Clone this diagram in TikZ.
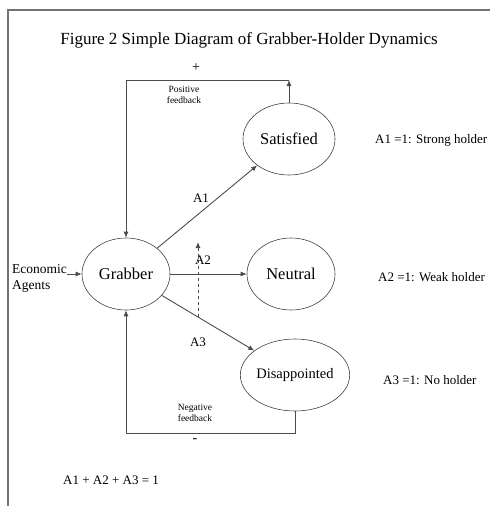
\documentclass[tikz,border=0pt]{standalone}
\usepackage{fontspec}
\setmainfont{Liberation Serif}
\usetikzlibrary{shapes.geometric,arrows.meta}

\tikzset{
  state/.style={ellipse, draw=black!75, line width=0.6pt, inner sep=0pt,
    minimum width=88pt, minimum height=72pt, font=\fontsize{16.5}{18}\selectfont},
  link/.style={draw=black!70, line width=0.9pt, -{Latex[length=6pt,width=5pt]}},
  plainlink/.style={draw=black!70, line width=0.9pt},
  note/.style={font=\fontsize{13}{15}\selectfont, inner sep=0pt},
  tiny/.style={font=\fontsize{9.5}{11}\selectfont, align=center, inner sep=0pt}
}

\begin{document}
\begin{tikzpicture}[x=1pt,y=-1pt]
  \useasboundingbox (0,0) rectangle (490,506);
  % page frame
  \draw[black!55, line width=1.6pt] (490,10) -- (8,10) -- (8,506);

  \node[font=\fontsize{17}{19}\selectfont] (title) at (249,40)
    {Figure 2 Simple Diagram of Grabber-Holder Dynamics};

  \node[state] (Grabber) at (126,274) {Grabber};
  \node[state, minimum width=92pt] (Satisfied) at (289,139) {Satisfied};
  \node[state] (Neutral) at (291,274) {Neutral};
  \node[state, minimum width=90pt, font=\fontsize{14.5}{16}\selectfont] (Disappointed) at (295,375) {Disappointed};

  \node[note, align=left, anchor=west, font=\fontsize{13.5}{16}\selectfont] (agents) at (12,278) {Economic\\Agents};

  \node[note, anchor=west] (strong) at (375,140) {A1 =1: Strong holder};
  \node[note, anchor=west] (weak) at (378,277) {A2 =1: Weak holder};
  \node[note, anchor=west] (none) at (383,380) {A3 =1: No holder};
  \node[note, anchor=west] (sum) at (63,480) {A1 + A2 + A3 = 1};

  \coordinate (posfb) at (289,80);
  \coordinate (negfb) at (126,433);
  \coordinate (dashlow) at (198,317);
  \coordinate (dashhigh) at (198,242);

  \draw[link] (agents.east |- Grabber) -- (Grabber);
  \draw[link] (Grabber) -- (Satisfied);
  \draw[link] (Grabber) -- (Neutral);
  \draw[link] (Grabber) -- (Disappointed);
  \draw[link, dashed] (dashlow) -- (dashhigh);
  \node[note] (a1) at (201,198) {A1};
  \node[note] (a2) at (203,260) {A2};
  \node[note] (a3) at (198,342) {A3};

  % feedback loops
  \draw[link] (Satisfied) -- (posfb);
  \draw[link] (posfb) -| (Grabber);
  \node[font=\fontsize{14}{16}\selectfont] (plus) at (196,68) {+};
  \node[tiny] (posnote) at (184,95) {Positive\\feedback};

  \draw[plainlink] (Disappointed) |- (negfb);
  \draw[link] (negfb) -- (Grabber);
  \node[tiny] (negnote) at (195,413) {Negative\\feedback};
  \node[font=\fontsize{14}{16}\selectfont] (minus) at (195,441) {-};
\end{tikzpicture}
\end{document}
